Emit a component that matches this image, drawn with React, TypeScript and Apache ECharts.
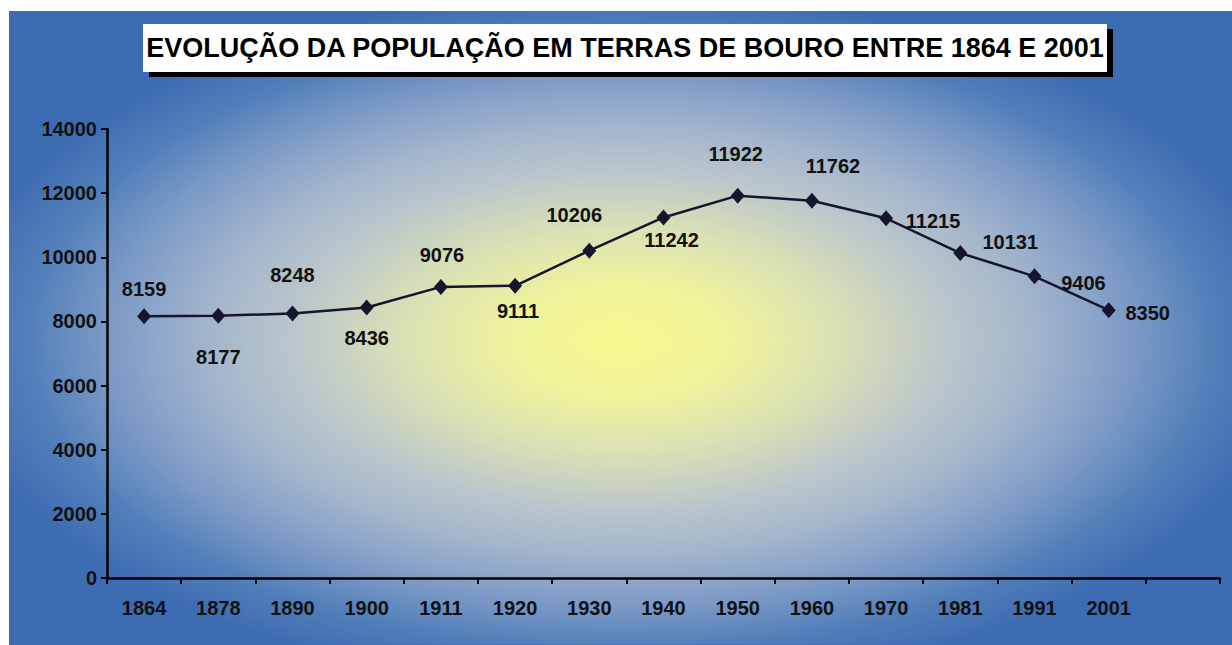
import React, { useEffect, useRef } from "react";
import * as echarts from "echarts";

const titleText = "EVOLUÇÃO DA POPULAÇÃO EM TERRAS DE BOURO ENTRE 1864 E 2001";
const years = ["1864", "1878", "1890", "1900", "1911", "1920", "1930", "1940", "1950", "1960", "1970", "1981", "1991", "2001", ""];
const population = [8159, 8177, 8248, 8436, 9076, 9111, 10206, 11242, 11922, 11762, 11215, 10131, 9406, 8350];
const yTicks = { min: 0, max: 14000, interval: 2000 };
// label placement relative to each marker (style only)
const labelOffsets: [number, number][] = [
  [0, -27], [0, 41], [0, -38], [0, 31], [1, -32], [3, 25], [-15, -36],
  [8, 23], [-2, -42], [21, -35], [47, 3], [50, -11], [49, 7], [39, 3],
];

export default function App() {
  const ref = useRef<HTMLDivElement>(null);
  useEffect(() => {
    if (!ref.current) return;
    const chart = echarts.init(ref.current, null, { renderer: "svg" });
    const W = 1232, H = 645;
    const bx = 9, by = 11;
    const bw = W - bx, bh = H - by;
    const font = "'Liberation Sans', Arial, sans-serif";
    chart.setOption({
      animation: false,
      backgroundColor: "#ffffff",
      graphic: [
        { type: "rect", z: -10, shape: { x: bx, y: by, width: bw, height: bh }, style: { fill: "#3e6cb2" }, silent: true },
        {
          type: "rect", z: -9, silent: true,
          x: bx, y: by, scaleY: bh / bw,
          shape: { x: 0, y: 0, width: bw, height: bw },
          style: {
            fill: {
              type: "radial", x: 0.5, y: 0.52, r: 0.55,
              colorStops: [
                { offset: 0, color: "#f7f88c" },
                { offset: 0.17, color: "#eff29c" },
                { offset: 0.32, color: "#dae1b4" },
                { offset: 0.48, color: "#bcc7cb" },
                { offset: 0.62, color: "#a2b4cc" },
                { offset: 0.76, color: "#7c9ac6" },
                { offset: 0.88, color: "#5380ba" },
                { offset: 1, color: "#3e6cb2" },
              ],
            },
          },
        },
        { type: "rect", z: 5, shape: { x: 149, y: 29, width: 964, height: 48 }, style: { fill: "#000000" } },
        { type: "rect", z: 6, shape: { x: 143, y: 24, width: 964, height: 48 }, style: { fill: "#ffffff" } },
        {
          type: "text", z: 7, x: 625, y: 48,
          style: {
            text: titleText, fill: "#000000", font: "bold 27px " + font,
            align: "center", verticalAlign: "middle",
          },
        },
      ],
      grid: { left: 107, right: 12, top: 129, bottom: 67 },
      xAxis: {
        type: "category",
        data: years,
        boundaryGap: true,
        axisLine: { show: true, onZero: false, lineStyle: { color: "#000000", width: 2.5 } },
        axisTick: { show: true, alignWithLabel: false, interval: 0, length: 6, lineStyle: { color: "#000000", width: 2 } },
        axisLabel: {
          interval: 0, margin: 20, color: "#111111",
          fontFamily: font, fontWeight: "bold", fontSize: 20,
        },
        splitLine: { show: false },
      },
      yAxis: {
        type: "value",
        min: yTicks.min, max: yTicks.max, interval: yTicks.interval,
        axisLine: { show: true, lineStyle: { color: "#000000", width: 2.5 } },
        axisTick: { show: true, length: 6, lineStyle: { color: "#000000", width: 2 } },
        axisLabel: {
          margin: 10, color: "#111111", formatter: (v: number) => String(v),
          fontFamily: font, fontWeight: "bold", fontSize: 20,
        },
        splitLine: { show: false },
      },
      series: [
        {
          type: "line",
          data: population.map((v, i) => ({
            value: v,
            label: { offset: labelOffsets[i] },
          })),
          symbol: "diamond",
          symbolSize: [14, 16],
          itemStyle: { color: "#15152e" },
          lineStyle: { color: "#15152e", width: 2.5 },
          label: {
            show: true, position: "inside", color: "#111111",
            fontFamily: font, fontWeight: "bold", fontSize: 20,
          },
          z: 3,
        },
      ],
    });
    return () => chart.dispose();
  }, []);
  return <div ref={ref} style={{ position: "absolute", left: 0, top: 0, width: 1232, height: 645 }} />;
}
